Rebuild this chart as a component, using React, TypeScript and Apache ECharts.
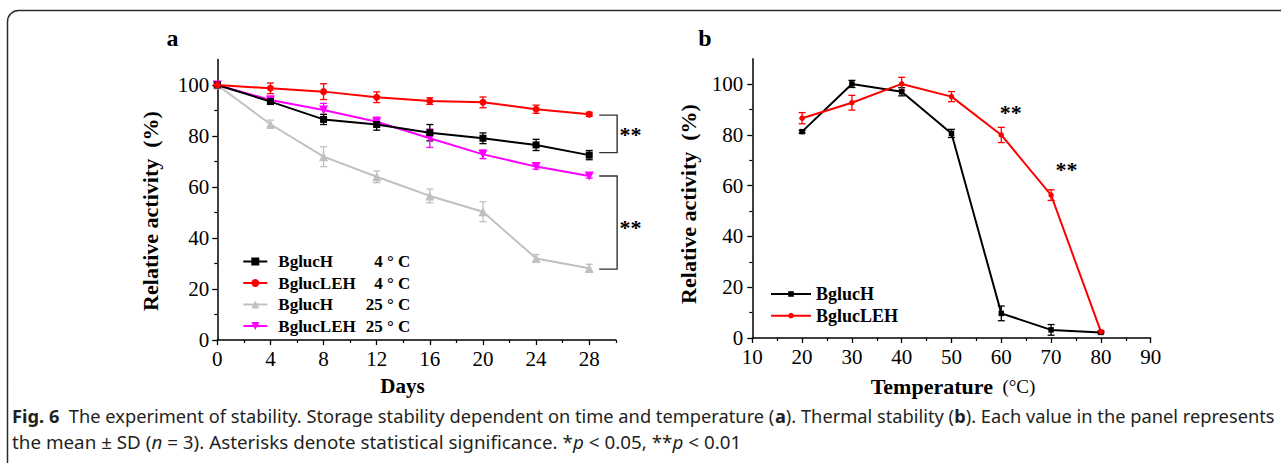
import React, { useEffect, useRef } from "react";
import * as echarts from "echarts";

// ---------- data ----------
const DAYS = [0, 4, 8, 12, 16, 20, 24, 28];
const A_BGLUCH_4 = [100, 93.5, 86.5, 84.5, 81.3, 79.1, 76.5, 72.5];
const A_BGLUCH_4_SD = [0.5, 1.0, 2.0, 2.2, 3.2, 2.1, 2.2, 1.8];
const A_BGLUCLEH_4 = [100, 98.7, 97.4, 95.2, 93.7, 93.2, 90.5, 88.5];
const A_BGLUCLEH_4_SD = [0.5, 2.1, 3.1, 2.1, 1.3, 2.1, 1.6, 0.8];
const A_BGLUCH_25 = [100, 84.6, 71.9, 64.0, 56.5, 50.3, 32.0, 28.1];
const A_BGLUCH_25_SD = [0.5, 1.6, 3.9, 2.3, 2.7, 3.9, 1.5, 1.6];
const A_BGLUCLEH_25 = [100, 94.1, 90.2, 85.6, 79.1, 72.8, 68.0, 64.3];
const A_BGLUCLEH_25_SD = [0.5, 1.5, 2.6, 1.8, 3.6, 1.7, 1.0, 0.8];

const TEMPS = [20, 30, 40, 50, 60, 70, 80];
const B_BGLUCH = [81.3, 100.1, 97.0, 80.6, 9.7, 3.2, 2.2];
const B_BGLUCH_SD = [0.5, 1.4, 1.6, 1.6, 2.9, 2.1, 0.3];
const B_BGLUCLEH = [86.6, 92.7, 100.1, 95.1, 80.0, 56.3, 2.5];
const B_BGLUCLEH_SD = [2.2, 2.9, 2.6, 2.0, 3.0, 2.1, 0.3];

const A_X_TICKS = [0, 4, 8, 12, 16, 20, 24, 28];
const A_X_MINOR = [2, 6, 10, 14, 18, 22, 26, 30];
const Y_TICKS = [0, 20, 40, 60, 80, 100];
const Y_MINOR = [10, 30, 50, 70, 90];

const A_LEGEND_NAMES = ["BglucH", "BglucLEH", "BglucH", "BglucLEH"];
const A_LEGEND_TEMPS = ["4 ° C", "4 ° C", "25 ° C", "25 ° C"];
const B_LEGEND_NAMES = ["BglucH", "BglucLEH"];

// significance brackets: [x0, x1, yTop, yBottom]
const A_BRACKETS = [
  [28.75, 30.1, 88.2, 73.5],
  [28.75, 30.1, 64.3, 27.8],
];
// star labels: [x, y]
const A_STARS = [
  [31.1, 80.6],
  [31.1, 44.2],
];
const B_STARS = [
  [61.9, 88.8],
  [73.1, 66.5],
];

const CAPTION_1 =
  "{b|Fig. 6}  The experiment of stability. Storage stability dependent on time and temperature ({b|a}). Thermal stability ({b|b}). Each value in the panel represents";
const CAPTION_2 =
  "the mean ± SD ({i|n} = 3). Asterisks denote statistical significance. *{i|p} < 0.05, **{i|p} < 0.01";

// ---------- styles ----------
const SERIF = "'Liberation Serif', 'Times New Roman', serif";
const SANS = "'Noto Sans', Lato, sans-serif";
const BLACK = "#000000";
const RED = "#ff0000";
const GRAY = "#c0c0c0";
const MAGENTA = "#ff00ff";

function errRender(color: string, cap: number) {
  return (params: any, api: any) => {
    const x = api.value(0);
    const y = api.value(1);
    const e = api.value(2);
    const p1 = api.coord([x, y + e]);
    const p2 = api.coord([x, y - e]);
    const st = { stroke: color, lineWidth: 1.3 };
    return {
      type: "group",
      children: [
        { type: "line", shape: { x1: p1[0], y1: p1[1], x2: p2[0], y2: p2[1] }, style: st },
        { type: "line", shape: { x1: p1[0] - cap, y1: p1[1], x2: p1[0] + cap, y2: p1[1] }, style: st },
        { type: "line", shape: { x1: p2[0] - cap, y1: p2[1], x2: p2[0] + cap, y2: p2[1] }, style: st },
      ],
    };
  };
}

function bracketRender(params: any, api: any) {
  const x0 = api.value(0);
  const x1 = api.value(1);
  const yt = api.value(2);
  const yb = api.value(3);
  const a = api.coord([x0, yt]);
  const b = api.coord([x1, yt]);
  const c = api.coord([x1, yb]);
  const d = api.coord([x0, yb]);
  return {
    type: "polyline",
    shape: { points: [a, b, c, d] },
    style: { stroke: "#333333", lineWidth: 1.4, fill: "none" },
  };
}

function starRender(params: any, api: any) {
  const p = api.coord([api.value(0), api.value(1)]);
  return {
    type: "text",
    x: p[0],
    y: p[1],
    style: {
      text: "**",
      fill: "#000",
      fontSize: 22,
      fontWeight: "bold",
      fontFamily: SERIF,
      align: "center",
      verticalAlign: "middle",
    },
  };
}

const axisLine = { show: true, lineStyle: { color: "#000", width: 1.5 } };
const tickLabel = { color: "#000", fontSize: 21, fontFamily: SERIF };

function xAxes(gridIndex: number, min: number, max: number, interval: number, ticks: number[] | null, minor: number[] | null) {
  const main: any = {
    type: "value",
    gridIndex,
    min,
    max,
    interval,
    position: "bottom",
    axisLine,
    splitLine: { show: false },
    axisTick: { show: true, length: 5, lineStyle: { color: "#000", width: 1.3 } },
    axisLabel: { ...tickLabel, margin: 8 },
  };
  if (ticks) {
    main.axisTick.customValues = ticks;
    main.axisLabel.customValues = ticks;
  } else {
    main.minorTick = { show: true, splitNumber: 2, length: 3, lineStyle: { color: "#000", width: 1.2 } };
  }
  const res = [main];
  if (minor) {
    res.push({
      type: "value",
      gridIndex,
      min,
      max,
      interval,
      position: "bottom",
      axisLine: { show: false },
      splitLine: { show: false },
      axisTick: { show: true, length: 3, customValues: minor, lineStyle: { color: "#000", width: 1.2 } },
      axisLabel: { show: false },
    });
  }
  return res;
}

function yAxes(gridIndex: number, margin: number) {
  return [
    {
      type: "value",
      gridIndex,
      min: 0,
      max: 110,
      interval: 20,
      position: "left",
      axisLine,
      splitLine: { show: false },
      axisTick: { show: true, length: 5, customValues: Y_TICKS, lineStyle: { color: "#000", width: 1.3 } },
      axisLabel: { ...tickLabel, margin, customValues: Y_TICKS },
    },
    {
      type: "value",
      gridIndex,
      min: 0,
      max: 110,
      interval: 20,
      position: "left",
      axisLine: { show: false },
      splitLine: { show: false },
      axisTick: { show: true, length: 3, customValues: Y_MINOR, lineStyle: { color: "#000", width: 1.2 } },
      axisLabel: { show: false },
    },
  ];
}

function lineSeries(name: string, xs: number[], ys: number[], color: string, symbol: string, size: number, xi: number, yi: number, rotate = 0, width = 2) {
  return {
    name,
    type: "line",
    xAxisIndex: xi,
    yAxisIndex: yi,
    data: xs.map((x, i) => [x, ys[i]]),
    symbol,
    symbolSize: size,
    symbolRotate: rotate,
    showAllSymbol: true,
    lineStyle: { color, width },
    itemStyle: { color },
    z: 3,
  };
}

function errSeries(xs: number[], ys: number[], sd: number[], color: string, xi: number, yi: number, cap: number) {
  return {
    type: "custom",
    xAxisIndex: xi,
    yAxisIndex: yi,
    renderItem: errRender(color, cap),
    data: xs.map((x, i) => [x, ys[i], sd[i]]),
    encode: { x: 0, y: 1 },
    silent: true,
    z: 2,
  };
}

export default function App() {
  const ref = useRef<HTMLDivElement>(null);
  useEffect(() => {
    if (!ref.current) return;
    const chart = echarts.init(ref.current, undefined, { renderer: "svg" });
    const aNames = A_LEGEND_NAMES.map((n, i) => n + "|" + A_LEGEND_TEMPS[i]);
    const option: any = {
      animation: false,
      backgroundColor: "#ffffff",
      textStyle: { fontFamily: SERIF },
      grid: [
        { left: 217.3, top: 59.5, width: 398.5, height: 280.5 },
        { left: 752.3, top: 58.8, width: 398.4, height: 279.2 },
      ],
      xAxis: [
        ...xAxes(0, 0, 30, 4, A_X_TICKS, A_X_MINOR),
        ...xAxes(1, 10, 90, 10, null, null),
      ],
      yAxis: [...yAxes(0, 8), ...yAxes(1, 9)],
      legend: [
        {
          data: aNames,
          orient: "vertical",
          left: 237.3,
          top: 248,
          itemWidth: 24,
          itemHeight: 10,
          itemGap: 4.5,
          selectedMode: false,
          formatter: (name: string) => {
            const [a, b] = name.split("|");
            return "{n|" + a + "}{t|" + b + "}";
          },
          textStyle: {
            color: "#000",
            lineHeight: 16,
            rich: {
              n: { fontFamily: SERIF, fontWeight: "bold", fontSize: 17, color: "#000", width: 80, padding: [0, 0, 0, 6] },
              t: { fontFamily: SERIF, fontWeight: "bold", fontSize: 17, color: "#000", width: 52, align: "right" },
            },
          },
        },
        {
          data: B_LEGEND_NAMES,
          orient: "vertical",
          left: 765,
          top: 280,
          itemWidth: 40,
          itemHeight: 7,
          itemGap: 3.7,
          selectedMode: false,
          textStyle: { color: "#000", fontFamily: SERIF, fontWeight: "bold", fontSize: 18, lineHeight: 18 },
        },
      ],
      series: [
        errSeries(DAYS, A_BGLUCH_25, A_BGLUCH_25_SD, GRAY, 0, 0, 3.5),
        errSeries(DAYS, A_BGLUCLEH_25, A_BGLUCLEH_25_SD, MAGENTA, 0, 0, 3.5),
        errSeries(DAYS, A_BGLUCH_4, A_BGLUCH_4_SD, BLACK, 0, 0, 3.5),
        errSeries(DAYS, A_BGLUCLEH_4, A_BGLUCLEH_4_SD, RED, 0, 0, 3.5),
        lineSeries(aNames[2], DAYS, A_BGLUCH_25, GRAY, "triangle", 9, 0, 0),
        lineSeries(aNames[3], DAYS, A_BGLUCLEH_25, MAGENTA, "triangle", 9, 0, 0, 180),
        lineSeries(aNames[0], DAYS, A_BGLUCH_4, BLACK, "rect", 7, 0, 0),
        lineSeries(aNames[1], DAYS, A_BGLUCLEH_4, RED, "circle", 7, 0, 0),
        errSeries(TEMPS, B_BGLUCH, B_BGLUCH_SD, BLACK, 2, 2, 3.5),
        errSeries(TEMPS, B_BGLUCLEH, B_BGLUCLEH_SD, RED, 2, 2, 3.5),
        lineSeries(B_LEGEND_NAMES[0], TEMPS, B_BGLUCH, BLACK, "rect", 5.5, 2, 2),
        lineSeries(B_LEGEND_NAMES[1], TEMPS, B_BGLUCLEH, RED, "circle", 5.5, 2, 2),
        {
          type: "custom",
          xAxisIndex: 0,
          yAxisIndex: 0,
          renderItem: bracketRender,
          data: A_BRACKETS,
          encode: { x: [0, 1], y: [2, 3] },
          silent: true,
          clip: false,
        },
        {
          type: "custom",
          xAxisIndex: 0,
          yAxisIndex: 0,
          renderItem: starRender,
          data: A_STARS,
          encode: { x: 0, y: 1 },
          silent: true,
          clip: false,
        },
        {
          type: "custom",
          xAxisIndex: 2,
          yAxisIndex: 2,
          renderItem: starRender,
          data: B_STARS,
          encode: { x: 0, y: 1 },
          silent: true,
          clip: false,
        },
      ],
      graphic: [
        {
          type: "rect",
          shape: { x: 7.5, y: 10.5, width: 1400, height: 600, r: 11 },
          style: { fill: "none", stroke: "#2b2b2b", lineWidth: 1.5 },
          silent: true,
        },
        { type: "text", x: 172.5, y: 38, style: { text: "a", fontFamily: SERIF, fontWeight: "bold", fontSize: 24, fill: "#000", align: "center", verticalAlign: "middle" } },
        { type: "text", x: 705, y: 38, style: { text: "b", fontFamily: SERIF, fontWeight: "bold", fontSize: 24, fill: "#000", align: "center", verticalAlign: "middle" } },
        {
          type: "text",
          x: 150,
          y: 211,
          rotation: Math.PI / 2,
          style: { text: "Relative activity  (%)", fontFamily: SERIF, fontWeight: "bold", fontSize: 22, fill: "#000", align: "center", verticalAlign: "middle" },
        },
        {
          type: "text",
          x: 688,
          y: 204,
          rotation: Math.PI / 2,
          style: { text: "Relative activity  (%)", fontFamily: SERIF, fontWeight: "bold", fontSize: 22, fill: "#000", align: "center", verticalAlign: "middle" },
        },
        { type: "text", x: 402.5, y: 386, style: { text: "Days", fontFamily: SERIF, fontWeight: "bold", fontSize: 21, fill: "#000", align: "center", verticalAlign: "middle" } },
        {
          type: "text",
          x: 953,
          y: 386,
          style: {
            text: "{b|Temperature}{n|  (°C)}",
            align: "center",
            verticalAlign: "middle",
            fill: "#000",
            rich: {
              b: { fontFamily: SERIF, fontWeight: "bold", fontSize: 22, fill: "#000" },
              n: { fontFamily: SERIF, fontWeight: "normal", fontSize: 19, fill: "#000" },
            },
          },
        },
        {
          type: "text",
          x: 12,
          y: 416,
          scaleX: 1.044,
          style: {
            text: CAPTION_1,
            fontFamily: SANS,
            fontSize: 17.5,
            fill: "#231f20",
            align: "left",
            verticalAlign: "middle",
            rich: {
              b: { fontFamily: SANS, fontWeight: "bold", fontSize: 17.5, fill: "#231f20" },
            },
          },
        },
        {
          type: "text",
          x: 12,
          y: 442,
          scaleX: 1.075,
          style: {
            text: CAPTION_2,
            fontFamily: SANS,
            fontSize: 17.5,
            fill: "#231f20",
            align: "left",
            verticalAlign: "middle",
            rich: {
              i: { fontFamily: SANS, fontStyle: "italic", fontSize: 17.5, fill: "#231f20" },
            },
          },
        },
      ],
    };
    chart.setOption(option);
    return () => chart.dispose();
  }, []);
  return <div ref={ref} style={{ position: "absolute", left: 0, top: 0, width: 1281, height: 463 }} />;
}
